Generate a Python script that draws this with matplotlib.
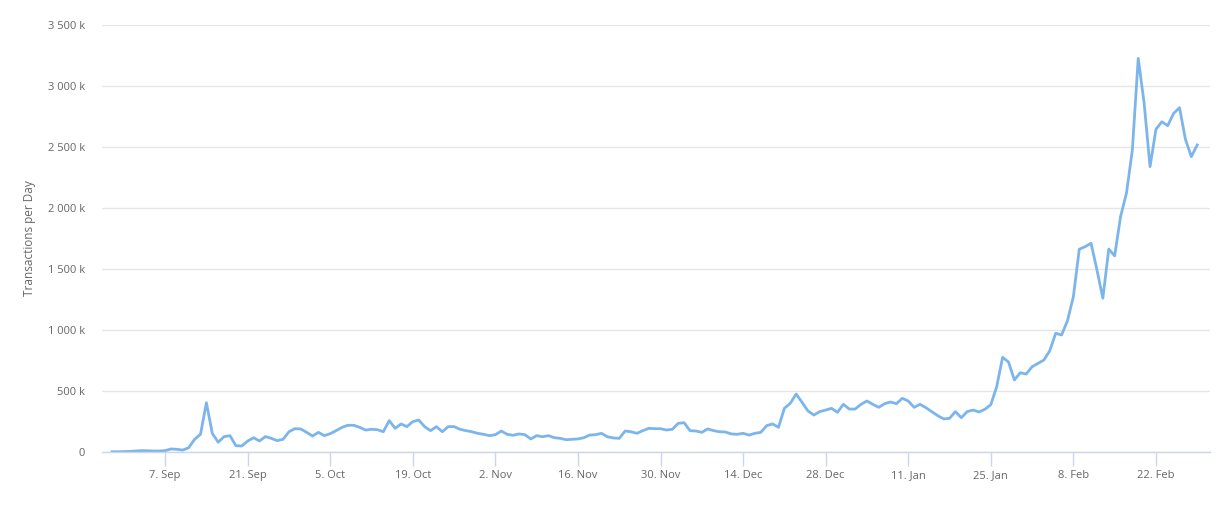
import numpy as np
import pandas as pd
import matplotlib
matplotlib.use("Agg")
import matplotlib.pyplot as plt
from matplotlib.ticker import FuncFormatter, MultipleLocator

plt.rcParams['font.family'] = ['Open Sans', 'DejaVu Sans']

# daily values, thousands of transactions
aug = [2, 2, 3]
sep = [5, 8, 11, 10, 8, 8, 11, 25, 22, 16,
       35, 104, 145, 404, 153, 80, 126, 134, 52, 49,
       90, 117, 90, 126, 112, 93, 104, 166, 191, 189]
oct_ = [161, 131, 161, 134, 150, 175, 202, 219, 219, 202,
        180, 186, 183, 166, 257, 194, 230, 208, 249, 262,
        208, 175, 208, 166, 208, 208, 186, 175, 166, 153, 145]
nov = [134, 142, 172, 145, 137, 148, 142, 107, 134, 125,
       134, 117, 112, 101, 104, 107, 117, 139, 142, 153,
       125, 115, 112, 172, 166, 153, 175, 194, 191, 191]
dec = [180, 186, 235, 240, 175, 172, 161, 189, 175, 166,
       164, 148, 145, 153, 139, 153, 161, 216, 230, 202,
       358, 399, 475, 407, 336, 303, 331, 344, 358, 325, 391]
jan = [352, 352, 391, 418, 391, 366, 396, 410, 396, 440,
       418, 366, 391, 363, 331, 298, 271, 276, 331, 281,
       331, 344, 328, 350, 388, 535, 776, 738, 590, 650, 639]
feb = [699, 727, 754, 830, 973, 959, 1076, 1273, 1662, 1683,
       1711, 1492, 1260, 1664, 1607, 1929, 2121, 2475, 3227, 2858,
       2339, 2645, 2707, 2675, 2776, 2822, 2563, 2421]
mar = [2517]

values = np.array(aug + sep + oct_ + nov + dec + jan + feb + mar) * 1000
dates = pd.date_range("2020-08-29", periods=len(values), freq="D")

fig = plt.figure(figsize=(12.26, 5.13), dpi=100)
ax = fig.add_axes([102 / 1226, 1 - 452 / 513, (1210 - 102) / 1226, (452 - 25) / 513])

ax.plot(dates, values, color="#7cb5ec", lw=2, solid_joinstyle="round")

ax.set_ylim(0, 3500000)
ax.set_xlim(pd.Timestamp("2020-08-29") - pd.Timedelta(days=1.7),
            pd.Timestamp("2021-03-03 04:00"))

ax.yaxis.set_major_locator(MultipleLocator(500000))


def fmt_y(v, pos):
    if v == 0:
        return "0"
    k = int(round(v / 1000))
    return f"{k:,}".replace(",", " ") + " k"


ax.yaxis.set_major_formatter(FuncFormatter(fmt_y))

ticks = pd.date_range("2020-09-07", "2021-02-22", freq="14D")
ax.set_xticks(ticks)
ax.set_xticklabels([f"{d.day}. {d.strftime('%b')}" for d in ticks])

ax.grid(axis="y", color="#e6e6e6", lw=1)
ax.set_axisbelow(True)
for s in ["top", "right", "left"]:
    ax.spines[s].set_visible(False)
ax.spines["bottom"].set_color("#ccd6eb")
ax.spines["bottom"].set_linewidth(1)

ax.tick_params(axis="y", length=0, pad=12, labelsize=8, labelcolor="#666666")
ax.tick_params(axis="x", length=10, width=1, color="#ccd6eb", pad=3,
               labelsize=8, labelcolor="#666666")

ax.set_ylabel("Transactions per Day", color="#666666", fontsize=8.5, labelpad=9)

fig.savefig("out.png", dpi=100)
